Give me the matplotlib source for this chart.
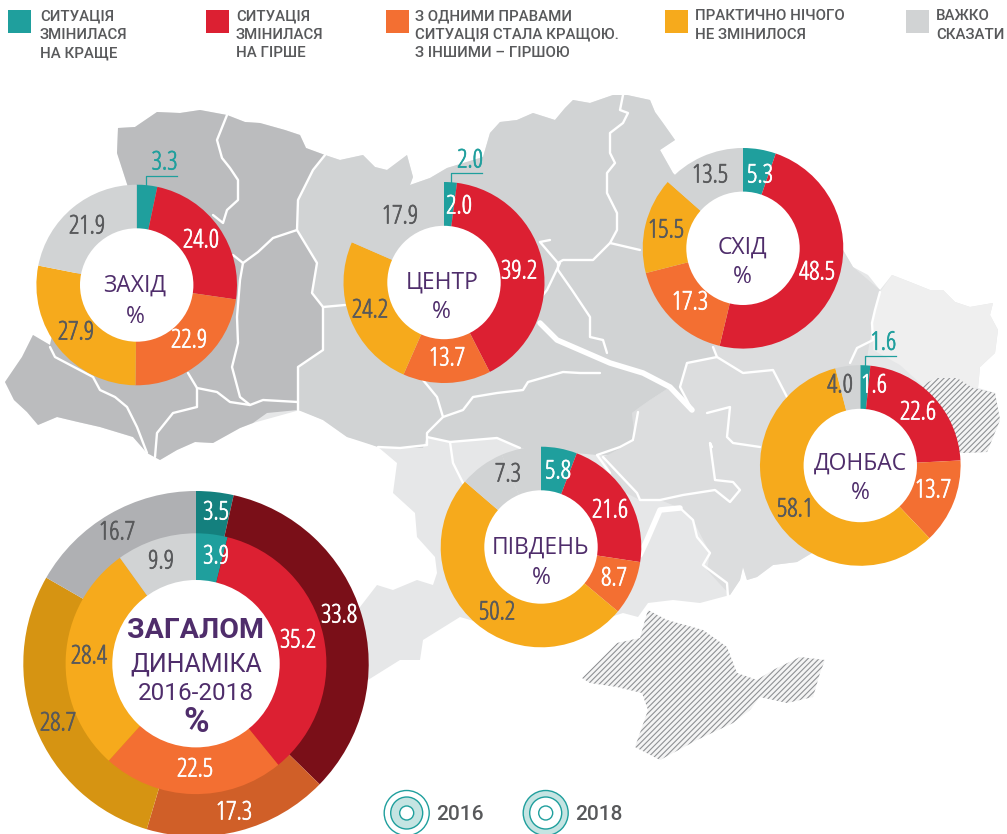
import matplotlib
matplotlib.use('Agg')
import matplotlib.pyplot as plt
import matplotlib.patheffects as pe
from matplotlib.patches import Polygon, Circle, Rectangle

W, H = 1007, 834

TEAL, RED, ORANGE, YELLOW, GREY = '#1F9F9D', '#DC2032', '#F36F32', '#F6AA1C', '#D1D3D4'
DARK_COLORS = ['#14807E', '#7A0F18', '#D05F28', '#D69412', '#AFB0B3']
COLORS = [TEAL, RED, ORANGE, YELLOW, GREY]
TXT = '#58595B'
PURPLE = '#4F2D6B'

# легенда
legend_lines = [
    ['СИТУАЦІЯ', 'ЗМІНИЛАСЯ', 'НА КРАЩЕ'],
    ['СИТУАЦІЯ', 'ЗМІНИЛАСЯ', 'НА ГІРШЕ'],
    ['З ОДНИМИ ПРАВАМИ', 'СИТУАЦІЯ СТАЛА КРАЩОЮ.', 'З ІНШИМИ – ГІРШОЮ'],
    ['ПРАКТИЧНО НІЧОГО', 'НЕ ЗМІНИЛОСЯ'],
    ['ВАЖКО', 'СКАЗАТИ'],
]
legend_x = [8, 206, 386, 665, 906]
legend_text_x = [40, 236, 415, 695, 936]

# значення
zahid = [3.3, 24.0, 22.9, 27.9, 21.9]
tsentr = [2.0, 39.2, 13.7, 24.2, 17.9]
shid = [5.3, 48.5, 17.3, 15.5, 13.5]
donbas = [1.6, 22.6, 13.7, 58.1, 4.0]
pivden = [5.8, 21.6, 8.7, 50.2, 7.3]
pivden_unlabelled = 6.4  # на картинці сірий сектор більший за підпис
total_2018 = [3.9, 35.2, 22.5, 28.4, 9.9]
total_2016 = [3.5, 33.8, 17.3, 28.7, 16.7]

# розташування підписів, пікселі
zahid_xy = [None, (201, 241), (189, 341), (76, 333), (87, 227)]
tsentr_xy = [(459, 207), (519, 272), (447, 359), (370, 311), (400, 217)]
shid_xy = [(760, 176), (817, 273), (690, 303), (666, 231), (710, 176)]
donbas_xy = [(874, 386), (918, 413), (933, 491), (795, 510), (840, 386)]
pivden_xy = [(558, 472), (610, 511), (614, 579), (497, 613), (508, 475)]
total_2018_xy = [(216, 557), (298, 641), (195, 770), (89, 657), (161, 562)]
total_2016_xy = [(216, 513), (339, 616), (234, 813), (58, 724), (117, 533)]

# контури карти, пікселі
ukraine = [(118, 128), (135, 127), (157, 112), (180, 113), (200, 110), (227, 115), (245, 122), (260, 123),
           (285, 130), (300, 135), (306, 148), (325, 155), (340, 160), (363, 155), (375, 167), (387, 170),
           (407, 155), (413, 177), (410, 185), (430, 178), (447, 168), (483, 157), (490, 133), (500, 122),
           (517, 120), (533, 113), (555, 120), (565, 108), (573, 100), (590, 103), (613, 95), (627, 95),
           (650, 100), (655, 112), (663, 123), (675, 140), (660, 150), (673, 173), (680, 180), (843, 250),
           (853, 267), (868, 275), (880, 290), (892, 275), (910, 282), (930, 290), (943, 290), (955, 302),
           (970, 307), (993, 303), (990, 315), (998, 330), (995, 353), (980, 367), (978, 388), (995, 393),
           (1000, 420), (987, 452), (960, 453), (920, 470), (880, 540), (812, 553), (797, 562), (773, 565),
           (757, 577), (747, 580), (743, 567), (740, 580), (730, 595), (700, 603), (673, 600), (648, 603),
           (638, 617), (623, 613), (540, 640), (460, 617), (423, 640), (420, 660), (400, 660), (368, 680),
           (350, 620), (377, 585), (393, 590), (417, 580), (433, 585), (437, 573), (435, 557), (417, 537),
           (415, 513), (393, 493), (397, 463), (378, 447), (360, 440), (347, 437), (323, 420), (300, 410),
           (253, 423), (240, 428), (213, 443), (195, 442), (177, 450), (160, 460), (147, 453), (133, 437),
           (100, 427), (78, 422), (57, 417), (38, 425), (27, 412), (14, 400), (5, 382), (22, 357), (33, 335),
           (50, 345), (60, 300), (128, 187), (117, 153)]
west_group = [(118, 128), (135, 127), (157, 112), (180, 113), (200, 110), (227, 115), (245, 122), (260, 123),
              (285, 130), (300, 135), (306, 148), (325, 155), (313, 170), (298, 200), (297, 230), (317, 263),
              (312, 293), (323, 307), (323, 350), (298, 367), (298, 410), (267, 413), (253, 423), (240, 428),
              (213, 443), (195, 442), (177, 450), (160, 460), (147, 453), (133, 437), (100, 427), (78, 422),
              (57, 417), (38, 425), (27, 412), (14, 400), (5, 382), (22, 357), (33, 335), (50, 345), (60, 300),
              (128, 187), (117, 153)]
center_group = [(325, 155), (340, 160), (363, 155), (375, 167), (387, 170), (407, 155), (413, 177), (410, 185),
                (430, 178), (447, 168), (483, 157), (490, 133), (500, 122), (517, 120), (533, 113), (555, 120),
                (565, 108), (573, 100), (590, 103), (613, 95), (627, 95), (650, 100), (655, 112), (663, 123),
                (675, 140), (660, 150), (673, 173), (680, 180), (743, 250), (743, 300), (713, 347), (717, 357),
                (687, 363), (680, 387), (692, 410), (670, 387), (650, 400), (640, 407), (632, 413), (635, 440),
                (623, 447), (608, 455), (597, 455), (520, 448), (497, 438), (450, 442), (427, 437), (423, 448),
                (400, 448), (378, 447), (347, 437), (323, 420), (298, 410), (298, 367), (323, 350), (323, 307),
                (312, 293), (317, 263), (297, 230), (298, 200), (313, 170)]
east_group = [(743, 250), (843, 250), (853, 267), (880, 290), (873, 323), (870, 340), (860, 400), (920, 470),
              (880, 540), (812, 553), (797, 562), (773, 565), (757, 577), (747, 580), (743, 567), (740, 580),
              (730, 595), (707, 570), (710, 553), (693, 520), (680, 508), (660, 500), (640, 500), (620, 490),
              (603, 457), (608, 455), (623, 447), (635, 440), (632, 413), (640, 407), (650, 400), (670, 387),
              (692, 410), (680, 387), (687, 363), (717, 357), (713, 347), (743, 300)]
luhansk = [(880, 292), (892, 275), (910, 282), (930, 290), (943, 290), (955, 302), (970, 307), (993, 303),
           (990, 315), (998, 330), (995, 353), (980, 367), (978, 388), (922, 385), (900, 365), (873, 350),
           (872, 323), (875, 310)]
occupied = [(922, 385), (937, 378), (957, 378), (973, 388), (995, 393), (1000, 420), (987, 452), (962, 453),
            (930, 440)]
crimea = [(648, 610), (667, 620), (703, 630), (727, 647), (737, 673), (757, 680), (773, 670), (800, 657),
          (825, 660), (820, 673), (813, 697), (787, 703), (760, 697), (750, 710), (733, 723), (697, 740),
          (660, 760), (635, 747), (648, 710), (642, 693), (617, 687), (590, 683), (582, 678), (617, 643),
          (640, 638), (645, 620)]

# межі областей
borders = [
    [(227, 115), (217, 140), (222, 158), (230, 168), (238, 180), (238, 200), (227, 210), (223, 223), (213, 215)],
    [(297, 230), (273, 238), (258, 252), (243, 263), (233, 255)],
    [(243, 263), (240, 280), (237, 317), (238, 343), (232, 367), (240, 397), (250, 405), (263, 400), (298, 402)],
    [(188, 373), (197, 388), (217, 392), (230, 402), (250, 405)],
    [(197, 388), (197, 407), (173, 413), (157, 433), (155, 457)],
    [(50, 347), (55, 357), (93, 377), (100, 390), (115, 397), (127, 407), (137, 427), (147, 453)],
    [(325, 155), (313, 170), (298, 200), (297, 230), (317, 263), (312, 293), (323, 307), (345, 305)],
    [(323, 307), (323, 350), (298, 367), (298, 410)],
    [(423, 380), (437, 397), (443, 417), (427, 433), (427, 445), (400, 448), (378, 447)],
    [(443, 417), (463, 410), (473, 397), (497, 393), (523, 390), (528, 382), (563, 372), (580, 373), (600, 373)],
    [(427, 437), (450, 442), (497, 438), (520, 448)],
    [(450, 442), (453, 463), (463, 483)],
    [(623, 95), (620, 110), (628, 113), (623, 123), (610, 133), (610, 153), (615, 163), (607, 173), (607, 193),
     (617, 213), (617, 230), (610, 243), (593, 260), (563, 260), (558, 263), (540, 242), (550, 240)],
    [(610, 243), (640, 250)],
    [(558, 263), (558, 270), (572, 290), (590, 317), (590, 337), (603, 340), (607, 353)],
    [(560, 263), (547, 290), (535, 305)],
    [(638, 412), (633, 440), (620, 447), (597, 455), (610, 473)],
    [(713, 347), (717, 357), (743, 373), (773, 370), (787, 397)],
    [(717, 357), (687, 363), (680, 387), (692, 410)],
    [(707, 413), (730, 407), (727, 437), (733, 443), (760, 447)],
    [(712, 447), (710, 443), (715, 480), (733, 482), (740, 490), (730, 502), (715, 490), (683, 495), (660, 500),
     (640, 500), (637, 493), (603, 457)],
    [(680, 508), (693, 520), (697, 537), (710, 553), (703, 565), (727, 583), (728, 597)],
    [(880, 292), (875, 310), (872, 323), (873, 340), (857, 348), (850, 363)],
]
rivers = [
    [(540, 323), (557, 340), (587, 353), (610, 363), (643, 373), (670, 387), (692, 410)],
    [(680, 508), (660, 510), (647, 540), (640, 555)],
]


def Y(y):
    return H - y


def poly(ax, points, color, z=0.4, **kw):
    pts = [(x, Y(y)) for x, y in points]
    ax.add_patch(Polygon(pts, closed=True, facecolor=color, edgecolor='none', zorder=z, **kw))


def border_line(ax, points, lw):
    ax.plot([p[0] for p in points], [Y(p[1]) for p in points], color='white', lw=lw,
            solid_joinstyle='round', solid_capstyle='round', zorder=0.6)


def draw_map(ax):
    poly(ax, ukraine, '#E6E7E8')
    poly(ax, east_group, '#DCDDDE')
    poly(ax, center_group, GREY)
    poly(ax, west_group, '#BBBCBE')
    poly(ax, luhansk, '#EFEFEF')
    for b in borders:
        border_line(ax, b, 1.7)
    for r in rivers:
        border_line(ax, r, 4)
    # заштриховані території
    plt.rcParams['hatch.linewidth'] = 0.8
    for shape in [crimea, occupied]:
        pts = [(x, Y(y)) for x, y in shape]
        ax.add_patch(Polygon(pts, closed=True, facecolor='#F4F4F4', edgecolor='#8F9194', hatch='//////',
                             linewidth=0, zorder=0.7))


def donut(ax, values, cx, cy, r, colors=COLORS):
    ax.pie(values, colors=colors, center=(cx, Y(cy)), radius=r, startangle=90, counterclock=False,
           wedgeprops={'linewidth': 0})


def hole(ax, cx, cy, r):
    ax.add_patch(Circle((cx, Y(cy)), r, facecolor='white', edgecolor='none', zorder=1.5))


def narrow_text(ax, x, y, s, color):
    # вузький шрифт тонкий, тому трохи обводимо його тим самим кольором
    t = ax.text(x, Y(y), s, color=color, ha='center', va='center', fontsize=18.5, family='Open Sans',
                stretch='condensed', zorder=3)
    t.set_path_effects([pe.withStroke(linewidth=0.5, foreground=color)])


def value_labels(ax, values, xy):
    for i, v in enumerate(values):
        if xy[i] is None:
            continue
        c = TXT if i >= 3 else 'white'
        narrow_text(ax, xy[i][0], xy[i][1], '%.1f' % v, c)


def name_label(ax, name, x, y1, y2):
    ax.text(x, Y(y1), name, color=PURPLE, ha='center', va='center', fontsize=16.5, family='Open Sans', zorder=3)
    ax.text(x, Y(y2), '%', color=PURPLE, ha='center', va='center', fontsize=16.5, family='Open Sans', zorder=3)


def leader(ax, value, x0, y0, y1, x1, tx, ty):
    ax.plot([x0, x0, x1], [Y(y0), Y(y1), Y(y1)], color=TEAL, lw=0.9, zorder=2)
    narrow_text(ax, tx, ty, '%.1f' % value, TEAL)


def draw_legend(ax):
    for i in range(len(legend_lines)):
        ax.add_patch(Rectangle((legend_x[i], Y(33)), 23, 23, facecolor=COLORS[i], edgecolor='none'))
        for j, line in enumerate(legend_lines[i]):
            ax.text(legend_text_x[i], Y(16 + j * 18.7), line, color=TXT, ha='left', va='center',
                    fontsize=10.8, family='Roboto', weight='medium')


def year_icon(ax, cx, cy, year, inner_ring):
    light = '#C5E4E2'
    ax.add_patch(Circle((cx, Y(cy)), 22.5, facecolor=light if not inner_ring else 'white', edgecolor=TEAL, lw=1))
    ax.add_patch(Circle((cx, Y(cy)), 16, facecolor=light if inner_ring else 'white', edgecolor=TEAL, lw=1))
    ax.add_patch(Circle((cx, Y(cy)), 7, facecolor='white', edgecolor=TEAL, lw=1))
    ax.text(cx + 29, Y(cy + 1), year, color=TXT, ha='left', va='center', fontsize=15, family='Roboto',
            weight='medium')


def do():
    fig = plt.figure(figsize=(W / 100, H / 100), dpi=100)
    ax = fig.add_axes([0, 0, 1, 1])
    draw_map(ax)

    donut(ax, zahid, 136.7, 285, 100.3)
    hole(ax, 136.7, 285, 56.7)
    value_labels(ax, zahid, zahid_xy)
    name_label(ax, 'ЗАХІД', 135, 285.7, 316.7)
    leader(ax, zahid[0], 146, 186, 176, 177, 164.5, 163)

    donut(ax, tsentr, 444, 282.5, 100.5)
    hole(ax, 444, 282.5, 56.7)
    value_labels(ax, tsentr, tsentr_xy)
    name_label(ax, 'ЦЕНТР', 441.7, 282.3, 311.7)
    leader(ax, tsentr[0], 451.3, 182, 173.3, 481.7, 470, 161)

    donut(ax, shid, 743, 248.3, 100.3)
    hole(ax, 743, 248.3, 56.7)
    value_labels(ax, shid, shid_xy)
    name_label(ax, 'СХІД', 742.3, 247.3, 277.3)

    donut(ax, donbas, 860.3, 465.5, 100.3)
    hole(ax, 860.3, 465.5, 56.7)
    value_labels(ax, donbas, donbas_xy)
    name_label(ax, 'ДОНБАС', 860, 463.3, 492.7)
    leader(ax, donbas[0], 864.7, 365, 356, 895.7, 883.3, 343.3)

    donut(ax, pivden + [pivden_unlabelled], 541, 547, 100.3, COLORS + [GREY])
    hole(ax, 541, 547, 56.7)
    value_labels(ax, pivden, pivden_xy)
    name_label(ax, 'ПІВДЕНЬ', 541, 547.3, 578.3)

    # загалом, два кільця
    donut(ax, total_2016, 196, 663.7, 172.7, DARK_COLORS)
    donut(ax, total_2018, 196, 663.7, 130.4)
    hole(ax, 196, 663.7, 83.7)
    value_labels(ax, total_2016, total_2016_xy)
    value_labels(ax, total_2018, total_2018_xy)
    ax.text(196, Y(631), 'ЗАГАЛОМ', color=PURPLE, ha='center', va='center', fontsize=20.5, family='Roboto',
            weight='bold', zorder=3)
    ax.text(196, Y(665), 'ДИНАМІКА', color=PURPLE, ha='center', va='center', fontsize=18, family='Roboto',
            zorder=3)
    ax.text(196, Y(694), '2016-2018', color=PURPLE, ha='center', va='center', fontsize=17.5, family='Roboto',
            zorder=3)
    ax.text(196, Y(723), '%', color=PURPLE, ha='center', va='center', fontsize=25, family='Roboto',
            weight='bold', zorder=3)

    draw_legend(ax)
    year_icon(ax, 406.7, 813, '2016', True)
    year_icon(ax, 545.7, 813, '2018', False)

    ax.set_xlim(0, W)
    ax.set_ylim(0, H)
    ax.set_aspect('equal')
    ax.axis('off')
    fig.savefig('out.png', dpi=100, facecolor='white')


do()
